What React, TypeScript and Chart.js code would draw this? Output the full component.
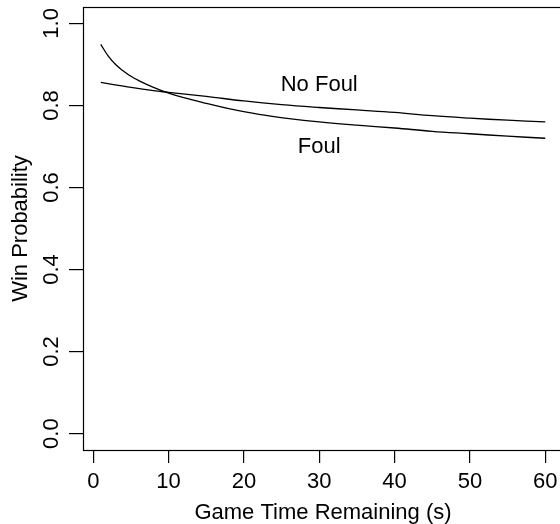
import React, { useEffect, useRef } from "react";
import { Chart, registerables } from "chart.js";

Chart.register(...registerables);

const foulX = [1, 2, 3, 4, 5, 6, 8, 10, 12, 15, 18, 22, 26, 30, 35, 40, 45, 50, 55, 60];
const foulY = [0.949, 0.92, 0.899, 0.884, 0.871, 0.861, 0.844, 0.83, 0.819, 0.805, 0.792, 0.778, 0.768, 0.76, 0.752, 0.745, 0.737, 0.731, 0.725, 0.72];
const noFoulX = [1, 4, 8, 10, 15, 20, 25, 30, 35, 40, 45, 50, 55, 60];
const noFoulY = [0.856, 0.847, 0.836, 0.832, 0.822, 0.811, 0.802, 0.795, 0.789, 0.783, 0.775, 0.769, 0.764, 0.76];

const xTicks = [0, 10, 20, 30, 40, 50, 60];
const yTicks = [0, 0.2, 0.4, 0.6, 0.8, 1.0];
const yTickLabels = ["0.0", "0.2", "0.4", "0.6", "0.8", "1.0"];

const curveLabels = ["No Foul", "Foul"];
const curveLabelX = [30, 30];
const curveLabelY = [0.85, 0.7];

const xTitle = "Game Time Remaining (s)";
const yTitle = "Win Probability";

const FONT = "'Liberation Sans', Arial, Helvetica, sans-serif";
const FS = 22;

export default function App() {
  const ref = useRef<HTMLCanvasElement>(null);
  useEffect(() => {
    const canvas = ref.current!;
    const framePlugin = {
      id: "frameAndText",
      afterDraw(chart: any) {
        const ctx = chart.ctx;
        const a = chart.chartArea;
        const xs = chart.scales.x;
        const ys = chart.scales.y;
        ctx.save();
        ctx.strokeStyle = "#000";
        ctx.lineWidth = 1.2;
        ctx.strokeRect(Math.round(a.left) + 0.5, Math.round(a.top) + 0.5, a.right - a.left, a.bottom - a.top);
        ctx.fillStyle = "#000";
        ctx.font = `${FS}px ${FONT}`;
        ctx.textAlign = "center";
        ctx.textBaseline = "middle";
        for (let i = 0; i < yTicks.length; i++) {
          const py = ys.getPixelForValue(yTicks[i]);
          ctx.save();
          ctx.translate(52, py);
          ctx.rotate(-Math.PI / 2);
          ctx.fillText(yTickLabels[i], 0, 0);
          ctx.restore();
        }
        for (let i = 0; i < curveLabels.length; i++) {
          ctx.fillText(curveLabels[i], xs.getPixelForValue(curveLabelX[i]), ys.getPixelForValue(curveLabelY[i]));
        }
        ctx.restore();
      },
    };
    const chart = new Chart(canvas, {
      type: "line",
      data: {
        datasets: [
          {
            label: "Foul",
            data: foulX.map((x, i) => ({ x, y: foulY[i] })),
            borderColor: "#000",
            borderWidth: 1.3,
            pointRadius: 0,
            tension: 0.4,
            fill: false,
          },
          {
            label: "No Foul",
            data: noFoulX.map((x, i) => ({ x, y: noFoulY[i] })),
            borderColor: "#000",
            borderWidth: 1.3,
            pointRadius: 0,
            tension: 0.4,
            fill: false,
          },
        ],
      },
      options: {
        responsive: false,
        animation: false,
        layout: { padding: { top: 7, right: 7, left: 0, bottom: 0 } },
        plugins: { legend: { display: false }, tooltip: { enabled: false } },
        scales: {
          x: {
            type: "linear",
            min: -1.36,
            max: 62.36,
            afterBuildTicks: (s: any) => {
              s.ticks = xTicks.map((v) => ({ value: v }));
            },
            afterFit: (s: any) => {
              s.height = 74;
            },
            border: { display: false },
            grid: { display: true, drawOnChartArea: false, drawTicks: true, tickLength: 13, tickColor: "#000", lineWidth: 1.2 },
            ticks: { color: "#000", font: { family: FONT, size: FS }, padding: 6, maxRotation: 0, autoSkip: false },
            title: { display: true, text: xTitle, color: "#000", font: { family: FONT, size: FS, lineHeight: 1 }, padding: { top: 0, bottom: 0 } },
          },
          y: {
            type: "linear",
            min: -0.04,
            max: 1.04,
            afterBuildTicks: (s: any) => {
              s.ticks = yTicks.map((v) => ({ value: v }));
            },
            afterFit: (s: any) => {
              s.width = 83;
            },
            border: { display: false },
            grid: { display: true, drawOnChartArea: false, drawTicks: true, tickLength: 14, tickColor: "#000", lineWidth: 1.2 },
            ticks: { display: false },
            title: { display: true, text: yTitle, color: "#000", font: { family: FONT, size: FS, lineHeight: 1 }, padding: { top: 10, bottom: 0 } },
          },
        },
      },
      plugins: [framePlugin],
    } as any);
    return () => chart.destroy();
  }, []);
  return (
    <div style={{ position: "absolute", left: 0, top: 0, width: 560, height: 524, overflow: "hidden", background: "#fff" }}>
      <canvas ref={ref} width={570} height={524} style={{ width: 570, height: 524, display: "block" }} />
    </div>
  );
}
